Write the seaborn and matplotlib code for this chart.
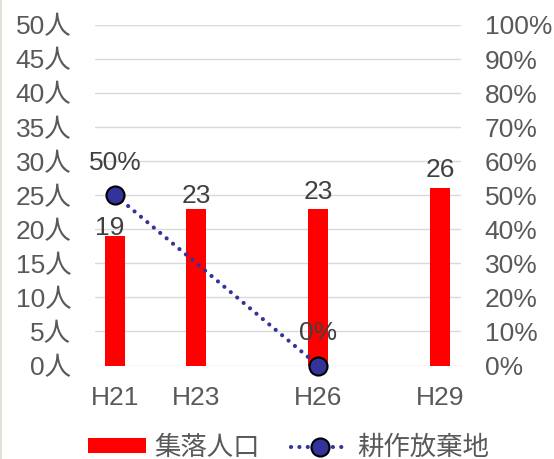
import matplotlib
matplotlib.use("Agg")
import matplotlib.pyplot as plt
import seaborn as sns
import pandas as pd
from matplotlib.lines import Line2D
from matplotlib.patches import Patch

# Survey years (Heisei era) and values
years = [21, 23, 26, 29]
year_labels = ["H21", "H23", "H26", "H29"]
population = [19, 23, 23, 26]          # 集落人口 (人)
abandoned_years = [21, 26]
abandoned_rate = [50, 0]               # 耕作放棄地 (%)

pop_ticks = list(range(0, 55, 5))
rate_ticks = list(range(0, 110, 10))

sns.set_theme(style="white")
plt.rcParams['font.family'] = ['Liberation Sans', 'Noto Sans CJK JP', 'DejaVu Sans']

TEXT = '#595959'
LABEL = '#404040'
RED = '#FF0000'
NAVY = '#333399'
GRID = '#D9D9D9'
FS = 19
PX = 0.72  # points per pixel at 100 dpi
LW = 3.0
DOTTED = (0, (0.01, 2.0))

W, H = 554, 459
fig = plt.figure(figsize=(W / 100, H / 100), dpi=100)
ax = fig.add_axes([95 / W, 1 - 365.5 / H, (461 - 95) / W, (365.5 - 25) / H])

df = pd.DataFrame({"year": years, "pop": population})
sns.barplot(data=df, x="year", y="pop", native_scale=True, width=0.245,
            color=RED, saturation=1, linewidth=0, ax=ax)

ax.set_xlim(20.5, 29.52)
ax.set_ylim(0, 50)
ax.set_xticks(years)
ax.set_xticklabels(year_labels)
ax.set_yticks(pop_ticks)
ax.set_yticklabels([f"{v}人" for v in pop_ticks])
ax.set_xlabel("")
ax.set_ylabel("")
ax.set_axisbelow(True)
ax.grid(axis='y', color=GRID, lw=1.0)
ax.grid(axis='x', visible=False)
for s in ax.spines.values():
    s.set_visible(False)
ax.tick_params(axis='y', length=0, pad=17, labelsize=FS, labelcolor=TEXT)
ax.tick_params(axis='x', length=0, pad=15, labelsize=FS, labelcolor=TEXT)

# value labels on bars (nudges in pixels: dx, gap above bar top)
nudges = [(-6, 1), (0, 6), (0, 10), (0, 11)]
for x, v, (dx, dy) in zip(years, population, nudges):
    ax.annotate(f"{v}", (x, v), xytext=(dx * PX, dy * PX), textcoords='offset points',
                ha='center', va='baseline', fontsize=FS, color=LABEL)

ax2 = ax.twinx()
sns.lineplot(x=abandoned_years, y=abandoned_rate, ax=ax2, color=NAVY, lw=LW,
             linestyle=DOTTED, dash_capstyle='round', marker='o', markersize=13,
             markerfacecolor=NAVY, markeredgecolor='black', markeredgewidth=1.5,
             clip_on=False, zorder=5)
ax2.set_ylim(0, 100)
ax2.set_yticks(rate_ticks)
ax2.set_yticklabels([f"{v}%" for v in rate_ticks])
ax2.set_xlabel("")
ax2.set_ylabel("")
for s in ax2.spines.values():
    s.set_visible(False)
ax2.tick_params(axis='y', length=0, pad=17, labelsize=FS, labelcolor=TEXT)
ax2.grid(False)

for x, v in zip(abandoned_years, abandoned_rate):
    ax2.annotate(f"{v}%", (x, v), xytext=(0, 25 * PX), textcoords='offset points',
                 ha='center', va='baseline', fontsize=FS, color=LABEL)

handles = [
    Patch(facecolor=RED, edgecolor='none', label='集落人口'),
    Line2D([], [], color=NAVY, lw=LW, ls=DOTTED, dash_capstyle='round', marker='o',
           markersize=13, markerfacecolor=NAVY, markeredgecolor='black',
           markeredgewidth=1.5, label='耕作放棄地'),
]
fig.legend(handles=handles, loc='center', bbox_to_anchor=(288.5 / W, 1 - 448 / H),
           ncol=2, frameon=False, fontsize=FS, handlelength=2.2, handleheight=0.5,
           handletextpad=0.3, columnspacing=1.2, labelcolor=TEXT)

fig.add_artist(Line2D([0.7 / W, 0.7 / W], [0, 1], transform=fig.transFigure,
                      color='#D9DDD0', lw=1.2))

fig.savefig("out.png", dpi=100)
